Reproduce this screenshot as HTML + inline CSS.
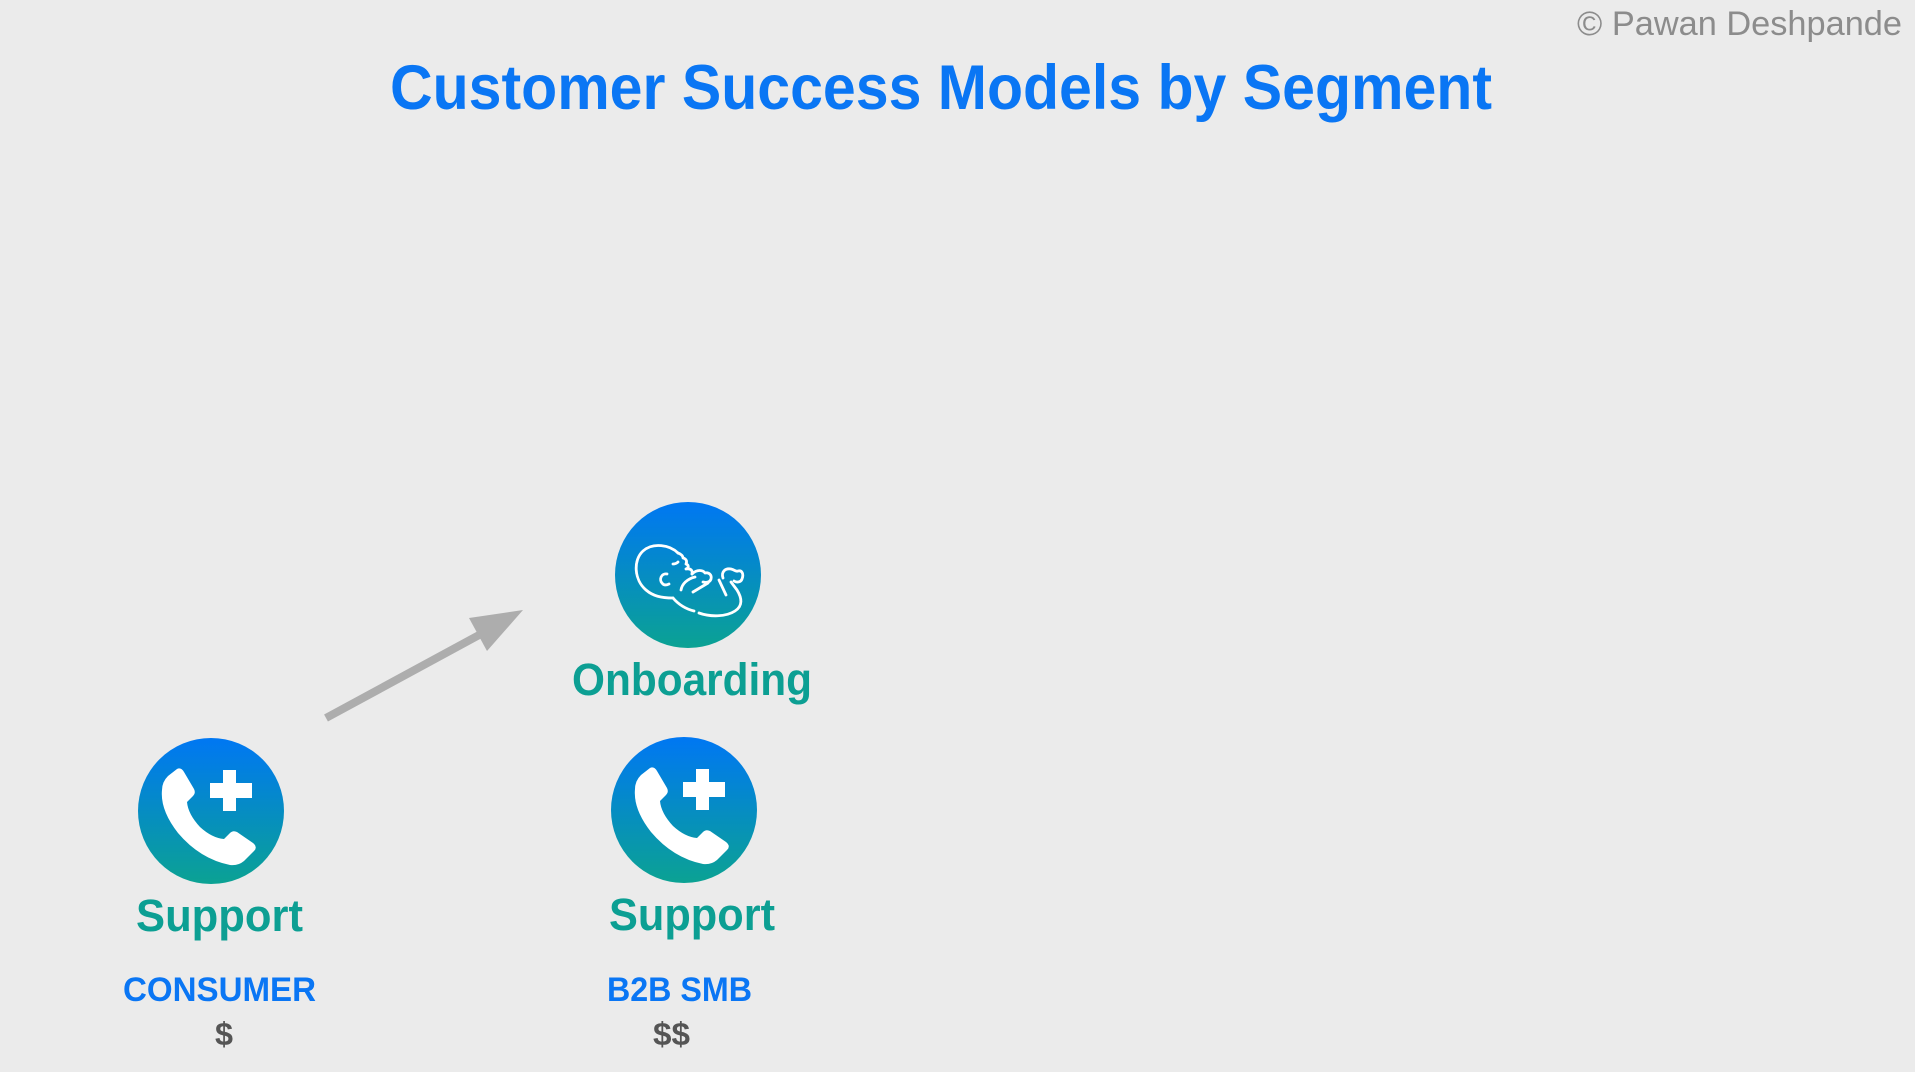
<!DOCTYPE html>
<html>
<head>
<meta charset="utf-8">
<style>
  html, body { margin: 0; padding: 0; background: #ebebeb; }
  body { width: 1915px; height: 1072px; overflow: hidden; }
  svg { display: block; }
  text { font-family: "Liberation Sans", sans-serif; }
</style>
</head>
<body>
<svg width="1915" height="1072" viewBox="0 0 1915 1072" xmlns="http://www.w3.org/2000/svg">
  <defs>
    <linearGradient id="g" x1="0" y1="0" x2="0" y2="1">
      <stop offset="0" stop-color="#0077f3"/>
      <stop offset="1" stop-color="#0ba293"/>
    </linearGradient>
    <g id="phone">
      <circle cx="73" cy="73" r="73" fill="url(#g)"/>
      <path fill="#fff" d="M39,31 Q43,29 46,34 L56,51 Q58,55 55,58 L49,64 Q50,76 62,89 Q74,100 86,101 L92,95 Q95,92 99,94 L115,105 Q120,109 116,113 L106,123 Q100,128 92,127 Q62,121 40,95 Q22,72 24,52 Q24,44 30,38 Z"/>
      <rect x="85" y="32" width="13" height="41" fill="#fff"/>
      <rect x="72" y="45" width="42" height="15" fill="#fff"/>
    </g>
  </defs>
  <rect width="1915" height="1072" fill="#ebebeb"/>

  <!-- copyright -->
  <text x="1577" y="35" font-size="34" fill="#8c8c8c" textLength="325" lengthAdjust="spacingAndGlyphs">© Pawan Deshpande</text>

  <!-- title -->
  <text x="390" y="109" font-size="63" font-weight="bold" fill="#0a76f4" textLength="1102" lengthAdjust="spacingAndGlyphs">Customer Success Models by Segment</text>

  <!-- arrow -->
  <line x1="326" y1="718" x2="492" y2="628" stroke="#adadad" stroke-width="8"/>
  <polygon points="523,610 469,618 487,651" fill="#adadad"/>

  <!-- onboarding -->
  <g transform="translate(615,502)">
    <circle cx="73" cy="73" r="73" fill="url(#g)"/>
    <g fill="none" stroke="#fff" stroke-width="2.8" stroke-linecap="round" stroke-linejoin="round">
      <path d="M63,51 C55,43 38,40 28,49 C18,58 19,78 31,88 C38,94 46,96 58,96"/>
      <path d="M58,96 C64,103 71,107 79,109"/>
      <path d="M84,111 C95,115 111,115 120,109 C128,104 127,96 122,88 L116,80"/>
      <path d="M108,76 C106,70 110,66 116,67 C120,68 121,70 123,69 C127,68 129,72 127,77 C126,80 122,81 119,79"/>
      <path d="M104,78 L111,93"/>
      <path d="M52,72 C46,71 44,78 47,81 C49,84 52,83 54,82"/>
      <path d="M58,62 C60,62 62,61 63,60"/>
      <path d="M63,51 C66,52 68,54 68,56 C72,57 72,60 71,62 C74,63 74,66 71,67 C76,66 78,69 77,72"/>
      <path d="M77,72 C82,67 88,68 90,71 C94,70 97,73 96,77 C95,80 92,81 88,80"/>
      <path d="M66,88 C67,82 72,77 80,75"/>
      <path d="M78,90 L93,81"/>
    </g>
  </g>
  <text x="572" y="695" font-size="45" font-weight="bold" fill="#0c9f93" textLength="240" lengthAdjust="spacingAndGlyphs">Onboarding</text>

  <!-- support left -->
  <use href="#phone" transform="translate(138,738)"/>
  <text x="136" y="931" font-size="45" font-weight="bold" fill="#0c9f93" textLength="167" lengthAdjust="spacingAndGlyphs">Support</text>
  <text x="123" y="1001" font-size="34" font-weight="bold" fill="#0a76f4" textLength="193" lengthAdjust="spacingAndGlyphs">CONSUMER</text>
  <text x="215" y="1045" font-size="32" font-weight="bold" fill="#555555" textLength="18" lengthAdjust="spacingAndGlyphs">$</text>

  <!-- support right -->
  <use href="#phone" transform="translate(611,737)"/>
  <text x="609" y="930" font-size="45" font-weight="bold" fill="#0c9f93" textLength="166" lengthAdjust="spacingAndGlyphs">Support</text>
  <text x="607" y="1001" font-size="34" font-weight="bold" fill="#0a76f4" textLength="145" lengthAdjust="spacingAndGlyphs">B2B SMB</text>
  <text x="653" y="1045" font-size="32" font-weight="bold" fill="#555555" textLength="37" lengthAdjust="spacingAndGlyphs">$$</text>
</svg>
</body>
</html>
